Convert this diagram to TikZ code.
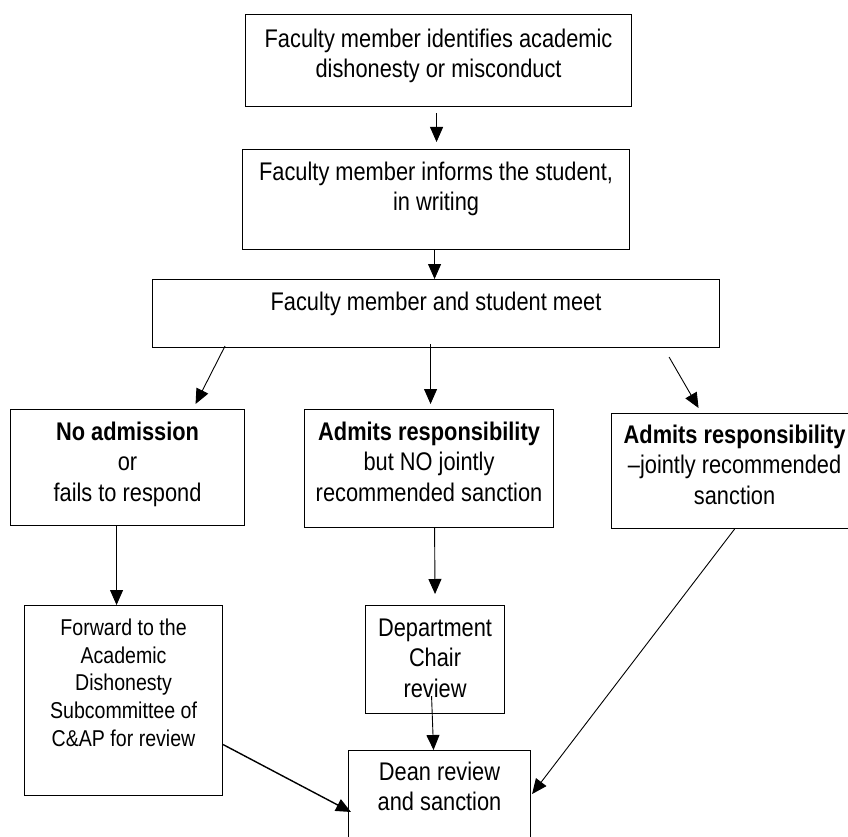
\documentclass[tikz,border=0pt]{standalone}
\usepackage{fontspec}
\setmainfont{Liberation Sans}[FakeStretch=0.855]
\usetikzlibrary{arrows.meta}

\begin{document}
\begin{tikzpicture}[
    x=1pt, y=-1pt,
    stepbox/.style={
        rectangle,
        draw=black,
        line width=1.1pt,
        anchor=north west,
        inner sep=0pt
    },
    steptext/.style={
        anchor=north,
        align=center,
        inner sep=0pt,
        font=\fontsize{25.5}{30.5}\selectfont
    },
    smalltext/.style={
        steptext,
        font=\fontsize{22.9}{27.7}\selectfont
    },
    flowarrow/.style={
        -{Triangle[length=15pt, width=13pt]},
        line width=0.9pt
    }
]
\useasboundingbox (0,0) rectangle (848,837);
\clip (0,0) rectangle (848,837);

% boxes
\node (identify) [stepbox, minimum width=386pt, minimum height=92pt] at (245,14) {};
\node (informs) [stepbox, minimum width=387pt, minimum height=100pt] at (242,149) {};
\node (meet) [stepbox, minimum width=567pt, minimum height=68pt] at (152,279) {};
\node (noadmit) [stepbox, minimum width=234pt, minimum height=116pt] at (10,409) {};
\node (nosanction) [stepbox, minimum width=249pt, minimum height=118pt] at (304,409) {};
\node (jointly) [stepbox, minimum width=246pt, minimum height=115pt] at (611,413) {};
\node (forward) [stepbox, minimum width=198pt, minimum height=190pt] at (24,605) {};
\node (chair) [stepbox, minimum width=139pt, minimum height=108pt] at (365,605) {};
\node (dean) [stepbox, minimum width=182pt, minimum height=120pt] at (348,750) {};

% texts
\node (identifytext) [steptext] at ([yshift=-14.4pt]identify.north) {Faculty member identifies academic\\dishonesty or misconduct};
\node (informstext) [steptext] at ([yshift=-12.4pt]informs.north) {Faculty member informs the student,\\in writing};
\node (meettext) [steptext] at ([yshift=-12.4pt]meet.north) {Faculty member and student meet};
\node (noadmittext) [steptext] at ([yshift=-12.4pt]noadmit.north) {\textbf{No admission}\\or\\fails to respond};
\node (nosanctiontext) [steptext] at ([yshift=-12.4pt]nosanction.north) {\textbf{Admits responsibility}\\but NO jointly\\recommended sanction};
\node (jointlytext) [steptext] at ([yshift=-11.4pt]jointly.north) {\textbf{Admits responsibility}\\--jointly recommended\\sanction};
\node (forwardtext) [smalltext] at ([yshift=-13.6pt]forward.north) {Forward to the\\Academic\\Dishonesty\\Subcommittee of\\C\&AP for review};
\node (chairtext) [steptext] at ([yshift=-13.4pt]chair.north) {Department\\Chair\\review};
\node (deantext) [steptext] at ([yshift=-11.4pt]dean.north) {Dean review\\and sanction};

% arrows
\draw [flowarrow, shorten <=6pt, shorten >=7pt] ([xshift=-2pt]identify.south) -- ([xshift=0.5pt]informs.north);
\draw [flowarrow] ([xshift=-1.5pt]informs.south) -- ([xshift=-1.5pt]meet.north);
\draw [flowarrow] ([xshift=73pt, yshift=2pt]meet.south west) -- ([xshift=68pt, yshift=5pt]noadmit.north);
\draw [flowarrow] ([xshift=-5.5pt, yshift=4pt]meet.south) -- ([xshift=1.5pt, yshift=5pt]nosanction.north);
\draw [flowarrow] ([xshift=-51pt, yshift=-9pt]meet.south east) -- ([xshift=-36pt, yshift=5pt]jointly.north);
\draw [flowarrow] ([xshift=-11pt]noadmit.south) -- ([xshift=-7pt]forward.north);
\draw [flowarrow] ([xshift=5.5pt]nosanction.south) -- ([yshift=11pt]chair.north);
\draw [flowarrow] ([xshift=-3.5pt, yshift=18pt]chair.south) -- ([xshift=-6pt]dean.north);
\draw [flowarrow, line width=1.4pt] ([yshift=-44pt]forward.east) -- ([xshift=3pt, yshift=-62pt]dean.north west);
\draw [flowarrow] (jointly.south) -- ([xshift=1pt, yshift=-44pt]dean.north east);
\end{tikzpicture}
\end{document}
